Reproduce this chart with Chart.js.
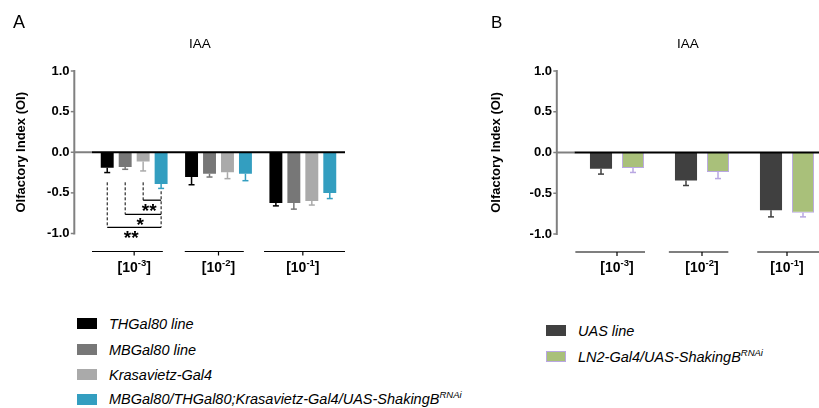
<!DOCTYPE html>
<html><head><meta charset="utf-8">
<script src="https://cdn.jsdelivr.net/npm/chart.js@4.4.1/dist/chart.umd.min.js"></script>
<style>
html,body{margin:0;padding:0;}
body{width:819px;height:408px;overflow:hidden;background:#fff;position:relative;font-family:"Liberation Sans",Arial,sans-serif;color:#000;}
canvas{position:absolute;top:0;}
#ca{left:0;}
#cb{left:410px;}
.t{position:absolute;line-height:1;white-space:nowrap;}
.leg{position:absolute;font-style:italic;font-size:14.5px;line-height:1;white-space:nowrap;}
.leg sup{font-size:9.5px;vertical-align:0;position:relative;top:-6px;}
.sw{position:absolute;width:20px;height:10px;box-sizing:border-box;}
</style>
</head><body>
<canvas id="ca" width="410" height="300"></canvas>
<canvas id="cb" width="430" height="300"></canvas>

<div class="t" style="left:13px;top:12.7px;font-size:18px;">A</div>
<div class="t" style="left:491px;top:13.9px;font-size:17px;">B</div>
<div class="t" style="left:200px;top:37px;font-size:13.5px;transform:translateX(-50%);">IAA</div>
<div class="t" style="left:688px;top:37px;font-size:13.5px;transform:translateX(-50%);">IAA</div>

<div id="legA"></div>
<div id="legB"></div>

<script>
// ---- data ----
const concExp = ['-3', '-2', '-1'];
const yTicks = [-1, -0.5, 0, 0.5, 1];

const thGal80      = [-0.19, -0.305, -0.625];
const thGal80Err   = [-0.25, -0.40, -0.66];
const mbGal80      = [-0.18, -0.265, -0.625];
const mbGal80Err   = [-0.21, -0.305, -0.70];
const krasavietz   = [-0.115, -0.245, -0.60];
const krasavietzErr= [-0.23, -0.325, -0.65];
const shakBA       = [-0.39, -0.265, -0.50];
const shakBAErr    = [-0.445, -0.35, -0.57];

const uasLine      = [-0.20, -0.345, -0.71];
const uasLineErr   = [-0.265, -0.405, -0.79];
const ln2ShakB     = [-0.19, -0.24, -0.74];
const ln2ShakBErr  = [-0.245, -0.32, -0.79];

const legendA = ['THGal80 line', 'MBGal80 line', 'Krasavietz-Gal4', 'MBGal80/THGal80;Krasavietz-Gal4/UAS-ShakingB'];
const legendB = ['UAS line', 'LN2-Gal4/UAS-ShakingB'];

// ---- colours ----
const cBlack = '#000000', cDark = '#777777', cLight = '#aaaaaa', cBlue = '#339ec0';
const cUas = '#404040', cGreen = '#a9c07a', cPurple = '#b9a7e2';

Chart.defaults.font.family = '"Liberation Sans", Arial, sans-serif';
Chart.defaults.color = '#000';

const FONT = '"Liberation Sans", Arial, sans-serif';

const prism = {
  id: 'prism',
  afterDatasetsDraw(chart, args, o) {
    const ctx = chart.ctx, ca = chart.chartArea, xs = chart.scales.x, ys = chart.scales.y;
    const ax = ca.left - 17.7;
    ctx.save();
    // y axis
    ctx.strokeStyle = '#808080'; ctx.lineWidth = 2;
    ctx.beginPath(); ctx.moveTo(ax, ys.getPixelForValue(1) - 1); ctx.lineTo(ax, ys.getPixelForValue(-1) + 1); ctx.stroke();
    ctx.lineWidth = 1.5;
    yTicks.forEach(v => { const py = ys.getPixelForValue(v); ctx.beginPath(); ctx.moveTo(ax - 3.5, py); ctx.lineTo(ax, py); ctx.stroke(); });
    // zero line
    const z = ys.getPixelForValue(0);
    ctx.lineWidth = 2;
    ctx.strokeStyle = '#808080';
    ctx.beginPath(); ctx.moveTo(ax, z); ctx.lineTo(ca.left, z); ctx.stroke();
    ctx.strokeStyle = '#000';
    ctx.beginPath(); ctx.moveTo(ca.left, z); ctx.lineTo(ca.right, z); ctx.stroke();
    // error bars
    chart.data.datasets.forEach((ds, i) => {
      const meta = chart.getDatasetMeta(i);
      ctx.strokeStyle = ds.errColor; ctx.lineWidth = 1.5;
      meta.data.forEach((bar, j) => {
        const y0 = ys.getPixelForValue(ds.data[j]);
        const y1 = ys.getPixelForValue(ds.errLow[j]);
        ctx.beginPath(); ctx.moveTo(bar.x, y0); ctx.lineTo(bar.x, y1); ctx.stroke();
        ctx.beginPath(); ctx.moveTo(bar.x - 3, y1); ctx.lineTo(bar.x + 3, y1); ctx.stroke();
      });
    });
    // y title
    ctx.save();
    ctx.translate(ax - o.titleOff, (ca.top + ca.bottom) / 2);
    ctx.rotate(-Math.PI / 2);
    ctx.font = 'bold 13px ' + FONT; ctx.textAlign = 'center'; ctx.textBaseline = 'middle';
    ctx.fillText('Olfactory Index (OI)', 0, 0);
    ctx.restore();
    // grouped x axis lines
    const cw = xs.getPixelForValue(1) - xs.getPixelForValue(0);
    const gy = ca.bottom + 18;
    ctx.strokeStyle = '#000'; ctx.lineWidth = 1.2;
    concExp.forEach((e, j) => {
      const cx = xs.getPixelForValue(j);
      const sp = o.spans[j];
      ctx.beginPath(); ctx.moveTo(cx + sp[0] * cw, gy); ctx.lineTo(cx + sp[1] * cw, gy); ctx.stroke();
      ctx.beginPath(); ctx.moveTo(cx, gy); ctx.lineTo(cx, gy + 4); ctx.stroke();
      // label [10^e]
      const by = ca.bottom + 38;
      ctx.textBaseline = 'alphabetic'; ctx.textAlign = 'left';
      ctx.font = 'bold 14px ' + FONT;
      const a = '[10', c = ']';
      const wa = ctx.measureText(a).width, wc = ctx.measureText(c).width;
      ctx.font = 'bold 9.5px ' + FONT;
      const wb = ctx.measureText(e).width;
      let sx = cx - (wa + wb + wc) / 2;
      ctx.font = 'bold 14px ' + FONT;
      ctx.fillText(a, sx, by);
      ctx.font = 'bold 9.5px ' + FONT;
      ctx.fillText(e, sx + wa, by - 6);
      ctx.font = 'bold 14px ' + FONT;
      ctx.fillText(c, sx + wa + wb, by);
    });
    // significance
    if (o.sig) {
      const s = o.sig;
      const toBar = chart.getDatasetMeta(s.to).data[s.group];
      const xr = toBar.x;
      const lowest = Math.min(...s.brackets.map(b => b.level));
      ctx.strokeStyle = '#000'; ctx.lineWidth = 1;
      ctx.setLineDash([3, 2]);
      ctx.beginPath(); ctx.moveTo(xr, ys.getPixelForValue(s.rightTop)); ctx.lineTo(xr, ys.getPixelForValue(lowest)); ctx.stroke();
      s.brackets.forEach(b => {
        const xb = chart.getDatasetMeta(b.from).data[s.group].x;
        ctx.setLineDash([3, 2]); ctx.lineWidth = 1;
        ctx.beginPath(); ctx.moveTo(xb, ys.getPixelForValue(s.dashTop)); ctx.lineTo(xb, ys.getPixelForValue(b.level)); ctx.stroke();
      });
      ctx.setLineDash([]);
      s.brackets.forEach(b => {
        const xb = chart.getDatasetMeta(b.from).data[s.group].x;
        const ly = ys.getPixelForValue(b.level);
        ctx.lineWidth = 1.3;
        ctx.beginPath(); ctx.moveTo(xb, ly); ctx.lineTo(xr, ly); ctx.stroke();
        ctx.font = 'bold 19px ' + FONT; ctx.textAlign = 'center'; ctx.textBaseline = 'alphabetic';
        ctx.fillText(b.label, (xb + xr) / 2 - 3, ly + 16.5);
      });
    }
    ctx.restore();
  }
};

function makeChart(id, datasets, o) {
  return new Chart(document.getElementById(id), {
    type: 'bar',
    data: { labels: concExp.map(e => '[10' + e + ']'), datasets },
    options: {
      responsive: false, animation: false, events: [],
      layout: { padding: o.padding },
      plugins: { legend: { display: false }, tooltip: { enabled: false }, prism: o.prism },
      datasets: { bar: { categoryPercentage: o.catPct, barPercentage: o.barPct } },
      scales: {
        x: { display: false, offset: true },
        y: {
          min: -1, max: 1,
          afterFit: s => { s.width = o.yWidth; },
          afterBuildTicks: s => { s.ticks = yTicks.map(v => ({ value: v })); },
          ticks: { font: { size: 13, weight: 'bold' }, color: '#000', padding: 22.5, callback: v => Number(v).toFixed(1) },
          grid: { display: false, drawTicks: false },
          border: { display: false }
        }
      }
    },
    plugins: [prism]
  });
}

makeChart('ca', [
  { label: legendA[0], data: thGal80, errLow: thGal80Err, backgroundColor: cBlack, errColor: cBlack },
  { label: legendA[1], data: mbGal80, errLow: mbGal80Err, backgroundColor: cDark, errColor: cDark },
  { label: legendA[2], data: krasavietz, errLow: krasavietzErr, backgroundColor: cLight, errColor: cLight },
  { label: legendA[3], data: shakBA, errLow: shakBAErr, backgroundColor: cBlue, errColor: cBlue }
], {
  padding: { left: 0, right: 65, top: 71, bottom: 66.5 },
  yWidth: 92, catPct: 0.852, barPct: 0.72,
  prism: {
    titleOff: 52.6,
    spans: [[-0.5, 0.34], [-0.4, 0.30], [-0.46, 0.5]],
    sig: { group: 0, to: 3, dashTop: -0.37, rightTop: -0.48,
      brackets: [ { from: 2, level: -0.59, label: '**' }, { from: 1, level: -0.765, label: '*' }, { from: 0, level: -0.925, label: '**' } ] }
  }
});

makeChart('cb', [
  { label: legendB[0], data: uasLine, errLow: uasLineErr, backgroundColor: cUas, errColor: cUas },
  { label: legendB[1], data: ln2ShakB, errLow: ln2ShakBErr, backgroundColor: cGreen, borderColor: cPurple, borderWidth: 1, errColor: cPurple }
], {
  padding: { left: 0, right: 10.5, top: 71, bottom: 66 },
  yWidth: 164.5, catPct: 0.753, barPct: 0.69,
  prism: {
    titleOff: 60.4,
    spans: [[-0.49, 0.33], [-0.39, 0.31], [-0.35, 0.6]]
  }
});

// ---- HTML legends ----
function legend(el, names, colors, borders, left, textLeft, baselines, supIdx) {
  names.forEach((n, i) => {
    const sw = document.createElement('div');
    sw.className = 'sw';
    sw.style.left = left + 'px';
    sw.style.top = (baselines[i] - 11) + 'px';
    sw.style.height = '11px';
    sw.style.background = colors[i];
    if (borders[i]) sw.style.border = '1px solid ' + borders[i];
    el.appendChild(sw);
    const t = document.createElement('div');
    t.className = 'leg';
    t.style.left = textLeft + 'px';
    t.style.top = (baselines[i] - 0.8465 * 14.5) + 'px';
    t.textContent = n;
    if (supIdx.includes(i)) { const s = document.createElement('sup'); s.textContent = 'RNAi'; t.appendChild(s); }
    el.appendChild(t);
  });
}
legend(document.getElementById('legA'), legendA, [cBlack, cDark, cLight, cBlue], [null, null, null, null], 77, 109, [329, 355, 380, 404.5], [3]);
legend(document.getElementById('legB'), legendB, [cUas, cGreen], [null, cPurple], 546, 578, [336, 362], [1]);
</script>
</body></html>
